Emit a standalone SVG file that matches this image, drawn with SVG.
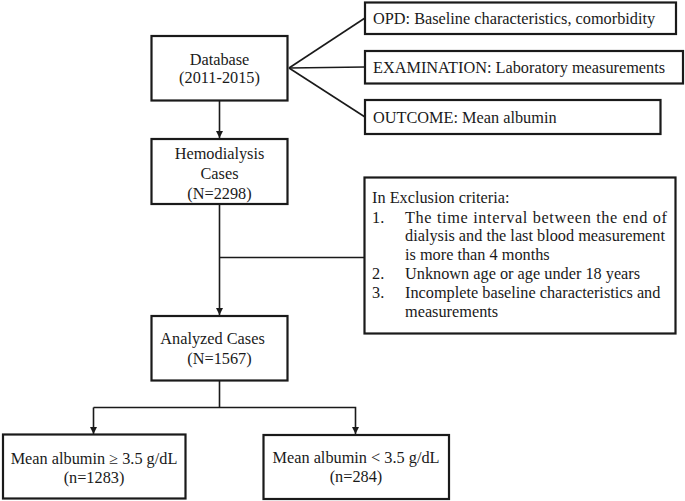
<svg xmlns="http://www.w3.org/2000/svg" width="685" height="501" viewBox="0 0 685 501">
<style>
.box{fill:#fff;stroke:#1a1a1a;stroke-width:2.2}
.t{font-family:"Liberation Serif","Times New Roman",serif;font-size:16.3px;fill:#1a1a1a}
.c{text-anchor:middle}
.ln{fill:none;stroke:#1a1a1a;stroke-width:1.6}
</style>
<defs>
<marker id="ah" markerWidth="8" markerHeight="8" refX="7" refY="4" orient="auto" markerUnits="userSpaceOnUse">
<path d="M0,0.5 L7,4 L0,7.5 Z" fill="#1a1a1a"/>
</marker>
</defs>
<rect width="685" height="501" fill="#fff"/>
<g id="connectors">
<line class="ln" x1="289" y1="68" x2="365" y2="18"/>
<line class="ln" x1="289" y1="68" x2="365" y2="67"/>
<line class="ln" x1="289" y1="68" x2="365" y2="117"/>
<line class="ln" x1="219.5" y1="101" x2="219.5" y2="138" marker-end="url(#ah)"/>
<line class="ln" x1="219.5" y1="204" x2="219.5" y2="315" marker-end="url(#ah)"/>
<line class="ln" x1="219.5" y1="257.5" x2="364" y2="257.5"/>
<line class="ln" x1="219.5" y1="381" x2="219.5" y2="407.5"/>
<polyline class="ln" points="93.5,407.5 355.5,407.5 355.5,434" marker-end="url(#ah)"/>
<line class="ln" x1="93.5" y1="407.5" x2="93.5" y2="434" marker-end="url(#ah)"/>
</g>
<g id="database">
<rect class="box" x="151.5" y="36" width="136" height="64.5"/>
<text class="t c" x="219.5" y="64.5">Database</text>
<text class="t c" x="219.5" y="83">(2011-2015)</text>
</g>
<g id="opd">
<rect class="box" x="365" y="2.5" width="311" height="31.5"/>
<text class="t" x="373" y="24">OPD: Baseline characteristics, comorbidity</text>
</g>
<g id="examination">
<rect class="box" x="365" y="51" width="318" height="32.5"/>
<text class="t" x="373" y="72.5">EXAMINATION: Laboratory measurements</text>
</g>
<g id="outcome">
<rect class="box" x="365" y="100" width="295.5" height="34"/>
<text class="t" x="373" y="122.5">OUTCOME: Mean albumin</text>
</g>
<g id="hemodialysis">
<rect class="box" x="151.5" y="139" width="136" height="65"/>
<text class="t c" x="219.5" y="158.5">Hemodialysis</text>
<text class="t c" x="219.5" y="178.5">Cases</text>
<text class="t c" x="219.5" y="198.5">(N=2298)</text>
</g>
<g id="exclusion">
<rect class="box" x="364.5" y="177.5" width="311" height="156"/>
<text class="t" x="372" y="203">In Exclusion criteria:</text>
<text class="t" x="372" y="222.5">1.</text>
<text class="t" x="405" y="222.5" textLength="262" lengthAdjust="spacing">The time interval between the end of</text>
<text class="t" x="405" y="241">dialysis and the last blood measurement</text>
<text class="t" x="405" y="259.5">is more than 4 months</text>
<text class="t" x="372" y="278.5">2.</text>
<text class="t" x="405" y="278.5">Unknown age or age under 18 years</text>
<text class="t" x="372" y="297.5">3.</text>
<text class="t" x="405" y="297.5">Incomplete baseline characteristics and</text>
<text class="t" x="405" y="316.5">measurements</text>
</g>
<g id="analyzed">
<rect class="box" x="151.5" y="316" width="136" height="64.5"/>
<text class="t c" x="212.5" y="344">Analyzed Cases</text>
<text class="t c" x="219.5" y="364">(N=1567)</text>
</g>
<g id="high">
<rect class="box" x="3" y="434.5" width="182.5" height="64"/>
<text class="t c" x="94" y="463.5">Mean albumin ≥ 3.5 g/dL</text>
<text class="t c" x="94" y="482.5">(n=1283)</text>
</g>
<g id="low">
<rect class="box" x="263.5" y="435" width="185.5" height="64"/>
<text class="t c" x="356" y="463">Mean albumin &lt; 3.5 g/dL</text>
<text class="t c" x="356" y="482">(n=284)</text>
</g>
</svg>
